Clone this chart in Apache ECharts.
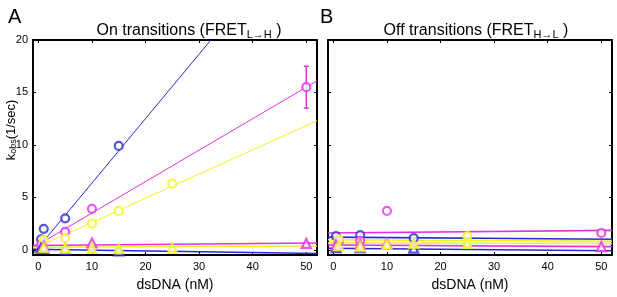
<!DOCTYPE html>
<html>
<head>
<meta charset="utf-8">
<script src="https://cdn.jsdelivr.net/npm/echarts@6/dist/echarts.min.js"></script>
<style>
  html, body { margin: 0; padding: 0; background: #fff; }
  #chart { width: 617px; height: 297px; }
</style>
</head>
<body>
<div id="chart"></div>
<script>
var xTicks = [0, 10, 20, 30, 40, 50];
var yTicks = [0, 5, 10, 15, 20];

var blue = '#2a2ad2';
var magenta = '#e52ee5';
var yellow = '#f3f21f';

// panel A - on transitions
var blueCircA = [[0.5, 1.0], [1, 2.0], [5, 3.0], [15, 9.9]];
var magCircA = [[0.5, 0.5], [5, 1.7], [10, 3.9], [50, 15.5]];
var yelCircA = [[1, 0.95], [5, 1.1], [10, 2.5], [15, 3.7], [25, 6.3]];
var blueTriA = [[0.5, 0.15], [1, 0.1], [5, 0.0], [15, -0.1]];
var magTriA = [[1, 0.35], [10, 0.65], [50, 0.6]];
var yelTriA = [[1, 0.2], [5, 0.15], [10, 0.15], [15, 0.1], [25, 0.15]];
var magErrA = [[50, 13.5, 17.5]];

var blueFitA = [[-1, -0.4], [32.2, 20]];
var magFitA = [[-1, 0.2], [52, 16.1]];
var yelFitA = [[-1, 0.07], [52, 12.3]];
var blueFlatA = [[-1, 0.05], [52, -0.35]];
var magFlatA = [[-1, 0.4], [52, 0.65]];
var yelFlatA = [[-1, 0.25], [52, 0.37]];

// panel B - off transitions
var blueCircB = [[0.5, 1.3], [5, 1.4], [15, 1.1]];
var magCircB = [[1, 0.8], [5, 0.85], [10, 3.7], [50, 1.6]];
var yelCircB = [[1, 1.0], [25, 1.3]];
var blueTriB = [[0.5, 0.2], [5, 0.2], [15, 0.15]];
var magTriB = [[0.5, 0.45], [5, 0.5], [10, 0.6], [50, 0.3]];
var yelTriB = [[1, 0.4], [5, 0.3], [10, 0.5], [15, 0.6], [25, 0.6]];

var magTopB = [[-1, 1.6], [52, 1.85]];
var blueMidB = [[-1, 1.2], [52, 1.0]];
var yelMidB = [[-1, 0.95], [52, 0.8]];
var yelLowB = [[-1, 0.65], [52, 0.6]];
var magLowB = [[-1, 0.45], [52, 0.3]];
var blueLowB = [[-1, 0.15], [52, -0.1]];

var font = 'Liberation Sans';

function fit(data, color, idx, w) {
    return {
        type: 'line', xAxisIndex: idx, yAxisIndex: idx, data: data,
        symbol: 'none', silent: true, z: 2,
        lineStyle: { color: color, width: w || 1 }
    };
}
function pts(data, color, idx, shape) {
    return {
        type: 'scatter', xAxisIndex: idx, yAxisIndex: idx, data: data,
        symbol: shape == 'tri' ? 'triangle' : 'circle',
        symbolSize: shape == 'tri' ? 9 : 8, z: 3,
        itemStyle: { color: '#fff', borderColor: color, borderWidth: 2.2 }
    };
}

function xAx(idx) {
    return {
        type: 'value', gridIndex: idx, min: -1, max: 52,
        axisLine: { onZero: false, lineStyle: { color: '#000', width: 2 } },
        axisTick: { inside: true, length: 3, customValues: xTicks, lineStyle: { color: '#000' } },
        axisLabel: { customValues: xTicks, color: '#000', fontSize: 11, margin: 6, fontFamily: font },
        splitLine: { show: false },
        name: 'dsDNA (nM)', nameLocation: 'middle', nameGap: 23,
        nameTextStyle: { fontSize: 14, color: '#000', fontFamily: font }
    };
}
function xTop(idx) {
    return {
        type: 'value', gridIndex: idx, min: -1, max: 52, position: 'top',
        axisLine: { onZero: false, lineStyle: { color: '#000', width: 2 } },
        axisTick: { inside: true, length: 3, customValues: xTicks, lineStyle: { color: '#000' } },
        axisLabel: { show: false }, splitLine: { show: false }
    };
}
function yAx(idx, labels, pos) {
    return {
        type: 'value', gridIndex: idx, min: -0.5, max: 20, position: pos || 'left',
        axisLine: { show: true, onZero: false, lineStyle: { color: '#000', width: 2 } },
        axisTick: { show: true, inside: true, length: 3, customValues: yTicks, lineStyle: { color: '#000' } },
        axisLabel: { show: labels, customValues: yTicks, color: '#000', fontSize: 11, margin: 5, fontFamily: font },
        splitLine: { show: false }
    };
}

var titleRich = {
    a: { fontSize: 16, fontWeight: 'normal', color: '#000', fontFamily: font },
    s: { fontSize: 11, fontWeight: 'normal', color: '#000', fontFamily: font, padding: [8, 0, 0, 0] }
};

var option = {
    animation: false,
    title: [
        { text: 'A', left: 3, top: 2, textStyle: { fontSize: 20, fontWeight: 'normal', color: '#000', fontFamily: font } },
        { text: 'B', left: 315, top: 2, textStyle: { fontSize: 20, fontWeight: 'normal', color: '#000', fontFamily: font } },
        { text: '{a|On transitions (FRET}{s|L→H}{a| )}', left: 184, top: 16, textAlign: 'center', textStyle: { fontWeight: 'normal', rich: titleRich } },
        { text: '{a|Off transitions (FRET}{s|H→L}{a| )}', left: 471, top: 16, textAlign: 'center', textStyle: { fontWeight: 'normal', rich: titleRich } }
    ],
    graphic: [{
        type: 'text', x: 11, y: 130, rotation: Math.PI / 2,
        style: {
            text: '{k|k}{s|obs}{k|(1/sec)}', align: 'center', verticalAlign: 'middle',
            rich: {
                k: { fontSize: 13, fill: '#000', fontFamily: font },
                s: { fontSize: 9, fill: '#000', fontFamily: font, padding: [6, 0, 0, 0] }
            }
        }
    }],
    grid: [
        { left: 33, top: 40, width: 284, height: 218 },
        { left: 328, top: 40, width: 284, height: 218 }
    ],
    xAxis: [xAx(0), xAx(1), xTop(0), xTop(1)],
    yAxis: [yAx(0, true), yAx(1, false), yAx(0, false, 'right'), yAx(1, false, 'right')],
    series: [
        fit(blueFitA, blue, 0), fit(magFitA, magenta, 0), fit(yelFitA, yellow, 0),
        fit(blueFlatA, blue, 0, 1.5), fit(magFlatA, magenta, 0, 1.5), fit(yelFlatA, yellow, 0, 1.5),
        {
            type: 'custom', xAxisIndex: 0, yAxisIndex: 0, data: magErrA, z: 3,
            renderItem: function (params, api) {
                var lo = api.coord([api.value(0), api.value(1)]);
                var hi = api.coord([api.value(0), api.value(2)]);
                var st = { stroke: magenta, lineWidth: 1.5 };
                return { type: 'group', children: [
                    { type: 'line', shape: { x1: lo[0], y1: lo[1], x2: hi[0], y2: hi[1] }, style: st },
                    { type: 'line', shape: { x1: lo[0] - 2.5, y1: lo[1], x2: lo[0] + 2.5, y2: lo[1] }, style: st },
                    { type: 'line', shape: { x1: hi[0] - 2.5, y1: hi[1], x2: hi[0] + 2.5, y2: hi[1] }, style: st }
                ] };
            }
        },
        pts(blueCircA, blue, 0), pts(magCircA, magenta, 0), pts(yelCircA, yellow, 0),
        pts(blueTriA, blue, 0, 'tri'), pts(magTriA, magenta, 0, 'tri'), pts(yelTriA, yellow, 0, 'tri'),

        fit(magTopB, magenta, 1, 1.6), fit(blueMidB, blue, 1, 1.6), fit(yelMidB, yellow, 1, 1.6),
        fit(yelLowB, yellow, 1, 1.6), fit(magLowB, magenta, 1, 1.6), fit(blueLowB, blue, 1, 1.6),
        pts(blueCircB, blue, 1), pts(magCircB, magenta, 1), pts(yelCircB, yellow, 1),
        pts(blueTriB, blue, 1, 'tri'), pts(magTriB, magenta, 1, 'tri'), pts(yelTriB, yellow, 1, 'tri')
    ]
};

var chart = echarts.init(document.getElementById('chart'));
chart.setOption(option);
</script>
</body>
</html>
